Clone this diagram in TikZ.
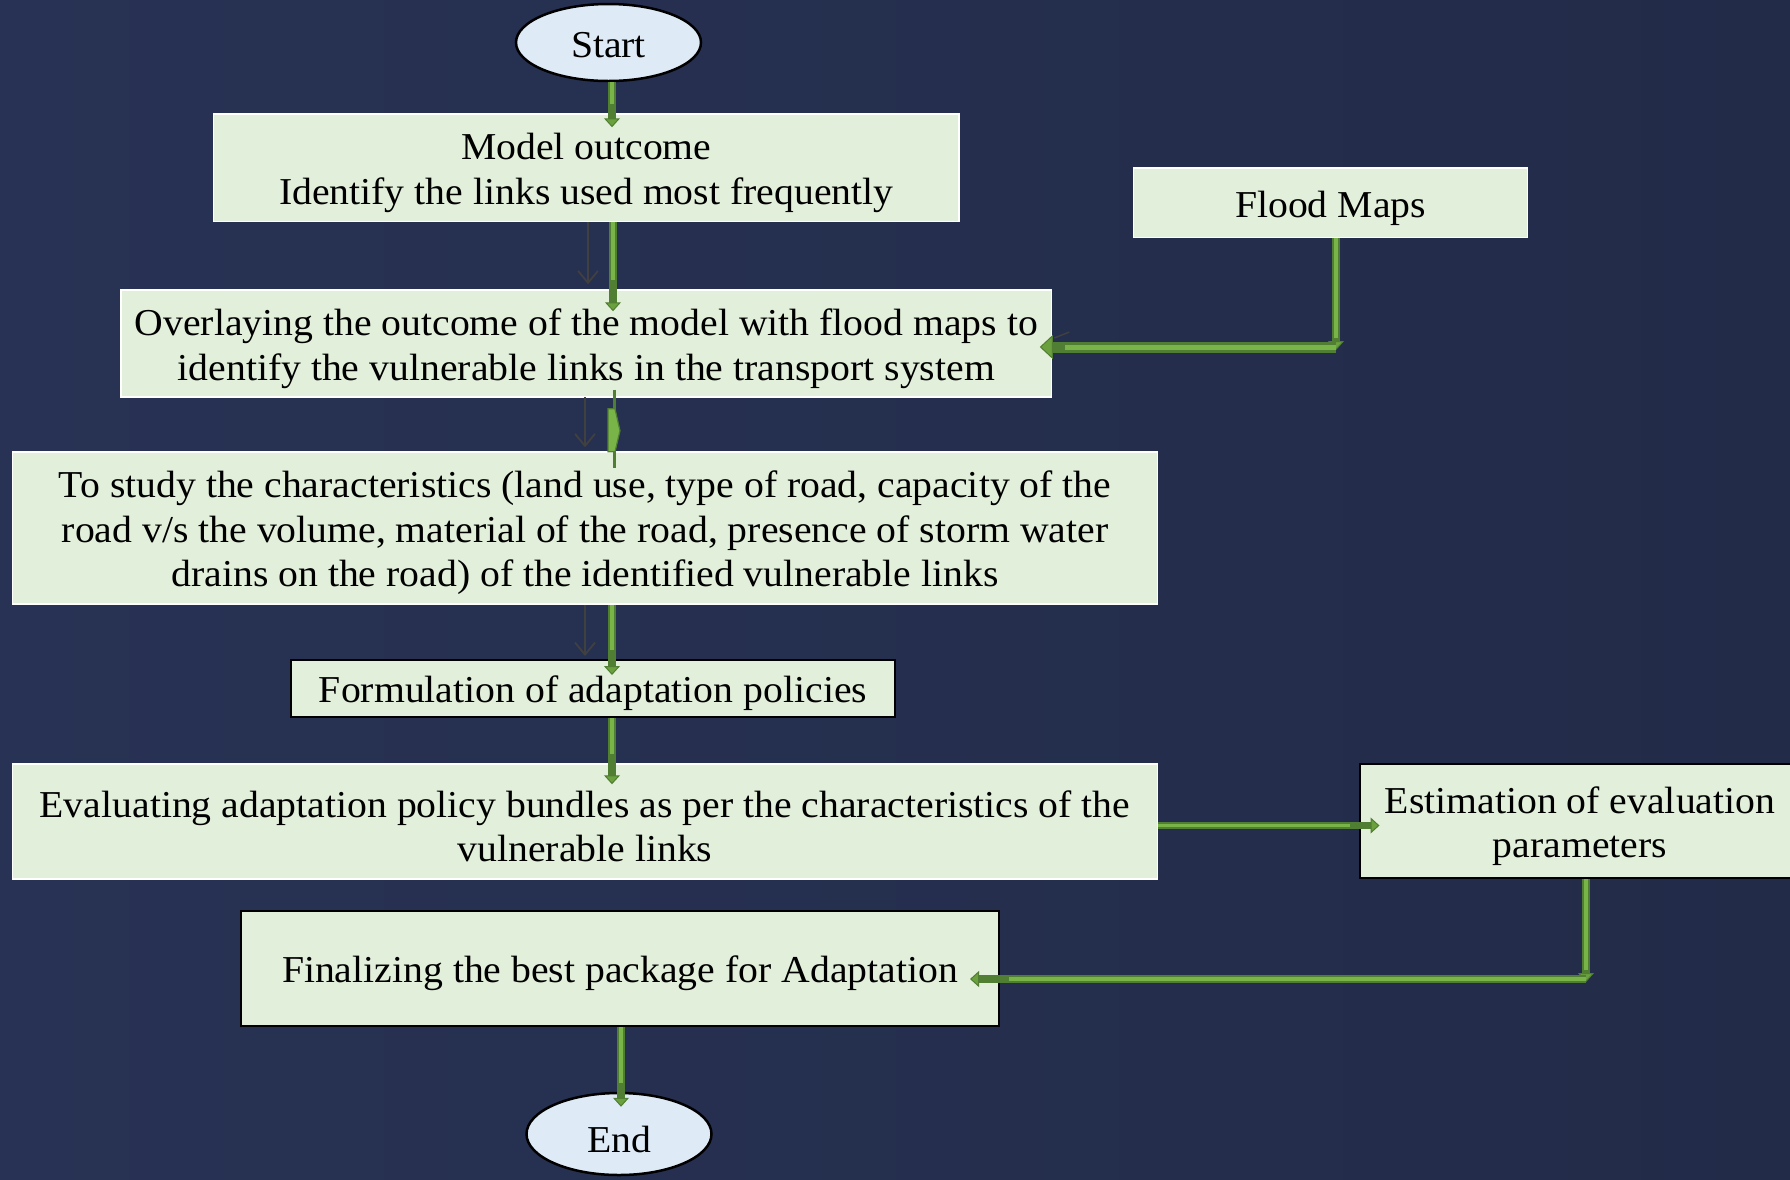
\documentclass[tikz,border=0pt]{standalone}
\usepackage{fontspec}
\setmainfont[FakeStretch=1.045]{Liberation Serif}
\usetikzlibrary{arrows.meta,shapes.geometric,calc}
\definecolor{bgA}{HTML}{283254}
\definecolor{bgB}{HTML}{222B48}
\definecolor{boxfill}{HTML}{E2EFDA}
\definecolor{ellfill}{HTML}{DEEBF7}
\definecolor{gdark}{HTML}{507E32}
\definecolor{glight}{HTML}{78B448}
\definecolor{gtip}{HTML}{6AA03D}
\definecolor{garr}{HTML}{404040}
\begin{document}
\begin{tikzpicture}[x=1pt,y=-1pt,
  txt/.style={font=\fontsize{38}{44.5}\selectfont, align=center, text=black, inner sep=0pt},
  wbox/.style={rectangle, fill=boxfill, draw=white, line width=1.5pt, inner sep=0pt},
  bbox/.style={wbox, draw=black, line width=2pt},
  term/.style={ellipse, fill=ellfill, draw=black, line width=2.5pt, inner sep=0pt},
  flow/.style={draw=gdark, line width=7.5pt, -{Triangle[length=9pt,width=16pt,line width=1pt,fill=gtip]},
     postaction={draw=glight, line width=3.5pt, arrows=-, shorten >=9pt}},
  flowthick/.style={draw=gdark, line width=11pt, -{Triangle[length=13pt,width=24pt,line width=1pt,fill=gtip]},
     postaction={draw=glight, line width=5pt, arrows=-, shorten >=13pt}},
  thinarr/.style={draw=garr, line width=1.8pt, -{Straight Barb[length=12pt,width=20pt,line width=1.8pt]}}
]
\useasboundingbox (0,0) rectangle (1790,1179);
\shade[left color=bgA, right color=bgB] (0,0) rectangle (1790,1179);
\clip (0,0) rectangle (1790,1179);

% helper columns
\coordinate (colA) at (612,0);
\coordinate (colB) at (613,0);
\coordinate (colC) at (614,0);
\coordinate (colE) at (621,0);
\coordinate (g1) at (588,0);
\coordinate (g2) at (585,0);
\coordinate (c1) at (1336,347);
\coordinate (c2) at (1586,979);
\coordinate (e1) at (0,825.5);

% shapes
\node[term, minimum width=185pt, minimum height=77pt] (start) at (608.5,42.5) {};
\node[wbox, minimum width=745.5pt, minimum height=107.5pt] (model) at (586.25,167.75) {};
\node[wbox, minimum width=394pt, minimum height=69.5pt] (flood) at (1330.5,202.75) {};
\node[wbox, minimum width=930.5pt, minimum height=107pt] (overlay) at (586.25,343.5) {};
\node[wbox, minimum width=1145pt, minimum height=152pt] (study) at (585,528) {};
\node[bbox, minimum width=604pt, minimum height=57pt] (form) at (593,688.5) {};
\node[wbox, minimum width=1145pt, minimum height=115pt] (eval) at (585,821.5) {};
\node[bbox, minimum width=441pt, minimum height=114.5pt] (est) at (1580,821) {};
\node[bbox, minimum width=758pt, minimum height=115pt] (fin) at (620,968.5) {};
\node[term, minimum width=185pt, minimum height=82pt] (end) at (619,1134) {};

% texts
\node[txt] (startT) at ([yshift=-3pt]start.center) {Start};
\node[txt] (modelT) at ([yshift=-5pt]model.center) {Model outcome\\Identify the links used most frequently};
\node[txt] (floodT) at ([yshift=-6pt]flood.center) {Flood Maps};
\node[txt] (overlayT) at ([yshift=-5pt]overlay.center)
  {Overlaying the outcome of the model with flood maps to\\identify the vulnerable links in the transport system};
\node[txt] (studyT) at ([yshift=-5pt]study.center)
  {To study the characteristics (land use, type of road, capacity of the\\road v/s the volume, material of the road, presence of storm water\\drains on the road) of the identified vulnerable links};
\node[txt] (formT) at ([yshift=-5pt]form.center) {Formulation of adaptation policies};
\node[txt] (evalT) at ([yshift=-5pt]eval.center)
  {Evaluating adaptation policy bundles as per the characteristics of the\\vulnerable links};
\node[txt] (estT) at ([yshift=-5pt]est.center) {Estimation of evaluation\\parameters};
\node[txt] (finT) at ([yshift=-5pt]fin.center) {Finalizing the best package for Adaptation};
\node[txt] (endT) at ([yshift=-5pt]end.center) {End};

% gray thin connectors
\draw[thinarr, shorten >=5pt] (model.south -| g1) -- (overlay.north -| g1);
\draw[thinarr, shorten <=-1pt, shorten >=4pt] (overlay.south -| g2) -- (study.north -| g2);
\draw[thinarr, shorten >=3pt] (study.south -| g2) -- (form.north -| g2);
\draw[draw=garr, line width=1.5pt] ($(overlay.east)+(2,-5.5)$) -- ++(15,-6);

% green connectors
\draw[flow, shorten >=-14pt] (start.south -| colA) -- (model.north -| colA);
\draw[flow, shorten >=-22pt] (model.south -| colB) -- (overlay.north -| colB);
% squeezed arrow between overlay and study
\draw[draw=gdark, line width=3pt, shorten <=-8pt, shorten >=-17pt] (overlay.south -| colC) -- (study.north -| colC);
\filldraw[fill=glight, draw=gdark, line width=1.2pt]
  ($(overlay.south -| colC)+(-6,11)$) -- ($(overlay.south -| colC)+(1,11)$) --
  ($(overlay.south -| colC)+(6,33)$) -- ($(overlay.south -| colC)+(1,54)$) --
  ($(overlay.south -| colC)+(-6,54)$) -- cycle;
\draw[flow, shorten >=-16pt] (study.south -| colA) -- (form.north -| colA);
\draw[flow, shorten >=-21pt] (form.south -| colA) -- (eval.north -| colA);
\draw[flow, shorten >=-3pt] (flood.south -| c1) -- (c1);
\draw[flowthick, shorten >=-12.5pt] (c1) -- (overlay.east |- c1);
\draw[flow, shorten >=-21pt] (eval.east |- e1) -- (est.west |- e1);
\draw[flow, shorten >=-3pt] (est.south -| c2) -- (c2);
\draw[flow, shorten >=-30pt] (c2) -- (fin.east |- c2);
\draw[flow, shorten >=-15pt] (fin.south -| colE) -- (end.north -| colE);
\end{tikzpicture}
\end{document}
